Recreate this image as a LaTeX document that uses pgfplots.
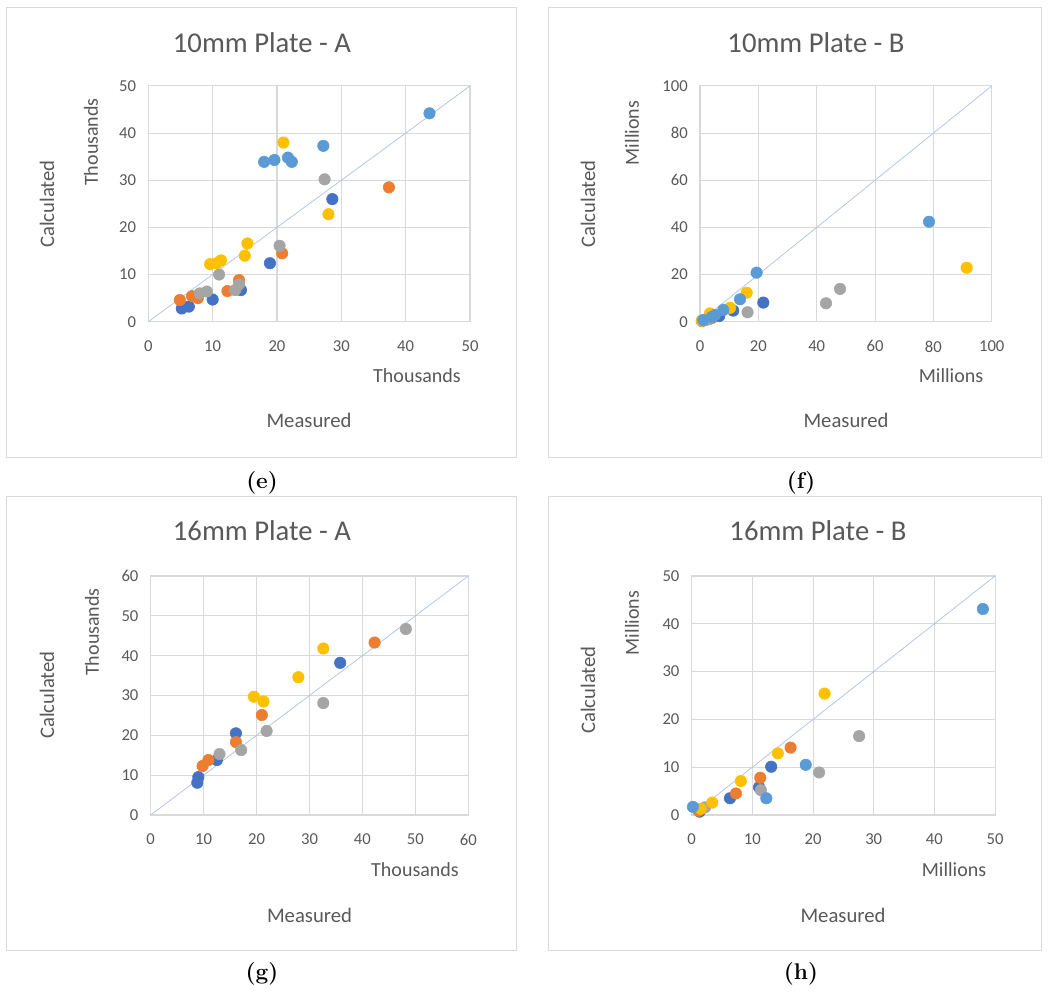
\documentclass[border=0pt]{standalone}
\usepackage{pgfplots}
\pgfplotsset{compat=1.18}
\usepackage{fontspec}
\setsansfont{Carlito}
\definecolor{dblue}{HTML}{4472C4}
\definecolor{orng}{HTML}{ED7D31}
\definecolor{gry}{HTML}{A5A5A5}
\definecolor{gold}{HTML}{FFC000}
\definecolor{lblue}{HTML}{5B9BD5}
\definecolor{gridc}{HTML}{D9D9D9}
\definecolor{tickc}{HTML}{595959}
\definecolor{diag}{HTML}{B4C7E7}
\pgfplotsset{
  excel/.style={
    scale only axis, clip=false,
    axis line style={draw=gridc, line width=0.8pt},
    grid=major, major grid style={draw=gridc, line width=0.8pt},
    major tick length=0pt,
    /pgf/number format/assume math mode=true,
    tick label style={font=\sffamily\fontsize{12.5}{12.5}\selectfont, text=tickc},
    yticklabel style={inner sep=0pt, xshift=-9pt},
    xticklabel style={inner sep=0pt, yshift=-14pt},
  },
  pts/.style={only marks, mark=*, mark size=4.3pt, color=#1, mark options={fill=#1, draw=#1}},
  dg/.style={no marks, color=diag, line width=0.6pt},
}
\newcommand{\ttl}{\sffamily\fontsize{21.5}{22}\selectfont\color{tickc}}
\newcommand{\lab}{\sffamily\fontsize{15.5}{16}\selectfont\color{tickc}}
\newcommand{\unt}{\sffamily\fontsize{15}{16}\selectfont\color{tickc}}
\newcommand{\sub}{\fontsize{17}{18}\selectfont\bfseries}
\begin{document}
\begin{tikzpicture}[x=0.75pt, y=0.75pt]
\useasboundingbox (0,0) rectangle (1049,996);
\fill[white] (0,0) rectangle (1049,996);
\draw[gridc, line width=0.75pt] (6,988) rectangle (516,538);
\draw[gridc, line width=0.75pt] (548,988) rectangle (1041,538);
\draw[gridc, line width=0.75pt] (6,499) rectangle (516,46);
\draw[gridc, line width=0.75pt] (548,499) rectangle (1041,46);

% (e) 10mm Plate - A
\begin{axis}[excel, at={(111.225pt,505.725pt)}, anchor=south west,
  width=241.3pt, height=176.8pt,
  xmin=0, xmax=50, ymin=0, ymax=50,
  xtick={0,10,...,50}, ytick={0,10,...,50}]
\addplot[dg] coordinates {(0,0) (50,50)};
\addplot[pts=dblue] coordinates {(28.6,26.0) (18.9,12.4) (10.0,4.7) (14.4,6.7) (5.2,2.8) (6.3,3.2)};
\addplot[pts=orng] coordinates {(37.4,28.5) (20.8,14.5) (14.1,8.8) (12.3,6.5) (6.8,5.4) (7.7,5.0) (4.9,4.6)};
\addplot[pts=gry] coordinates {(27.4,30.2) (20.4,16.1) (11.0,10.0) (9.1,6.4) (8.0,6.0) (14.1,7.9) (13.5,6.7)};
\addplot[pts=gold] coordinates {(21.0,38.0) (28.0,22.8) (15.4,16.6) (15.0,14.0) (9.6,12.2) (10.6,12.4) (11.3,13.0)};
\addplot[pts=lblue] coordinates {(43.7,44.2) (27.2,37.3) (18.0,33.9) (19.6,34.3) (21.7,34.8) (22.3,33.9)};
\end{axis}

% (f) 10mm Plate - B
\begin{axis}[excel, at={(525pt,505.725pt)}, anchor=south west,
  width=218.8pt, height=176.8pt,
  xmin=0, xmax=100, ymin=0, ymax=100,
  xtick={0,20,...,100}, ytick={0,20,...,100}]
\addplot[dg] coordinates {(0,0) (100,100)};
\addplot[pts=dblue] coordinates {(21.7,8.1) (11.4,4.7) (6.6,2.4) (3.0,1.2) (0.6,0.3)};
\addplot[pts=orng] coordinates {(0.8,0.4) (4.0,1.5) (2.0,0.8)};
\addplot[pts=gry] coordinates {(48.0,13.9) (43.2,7.8) (16.3,4.0) (1.2,0.6) (3.0,1.0)};
\addplot[pts=gold] coordinates {(91.4,22.9) (16.0,12.3) (10.3,5.9) (3.4,3.5) (0.6,0.4)};
\addplot[pts=lblue] coordinates {(78.5,42.4) (19.4,20.8) (13.7,9.5) (8.0,5.0) (5.1,2.8) (1.1,0.7) (4.0,2.0)};
\end{axis}

% (g) 16mm Plate - A
\begin{axis}[excel, at={(113.025pt,135.75pt)}, anchor=south west,
  width=238.2pt, height=179.25pt,
  xmin=0, xmax=60, ymin=0, ymax=60,
  xtick={0,10,...,60}, ytick={0,10,...,60}]
\addplot[dg] coordinates {(0,0) (60,60)};
\addplot[pts=dblue] coordinates {(35.8,38.2) (16.1,20.5) (12.5,13.8) (9.0,9.5) (8.8,8.1)};
\addplot[pts=orng] coordinates {(42.3,43.3) (21.0,25.1) (16.1,18.3) (10.9,13.8) (9.8,12.3)};
\addplot[pts=gry] coordinates {(48.2,46.7) (32.6,28.1) (21.9,21.1) (17.1,16.3) (13.0,15.3)};
\addplot[pts=gold] coordinates {(32.6,41.8) (27.9,34.6) (19.5,29.7) (21.3,28.5)};
\end{axis}

% (h) 16mm Plate - B
\begin{axis}[excel, at={(518.775pt,135.75pt)}, anchor=south west,
  width=227.5pt, height=179.25pt,
  xmin=0, xmax=50, ymin=0, ymax=50,
  xtick={0,10,...,50}, ytick={0,10,...,50}]
\addplot[dg] coordinates {(0,0) (50,50)};
\addplot[pts=dblue] coordinates {(13.1,10.1) (11.1,5.8) (6.3,3.5) (1.3,0.7)};
\addplot[pts=orng] coordinates {(16.3,14.1) (11.3,7.8) (7.3,4.5) (1.1,0.9)};
\addplot[pts=gry] coordinates {(27.6,16.5) (21.0,8.9) (11.4,5.2) (2.2,1.6)};
\addplot[pts=gold] coordinates {(21.9,25.4) (14.2,12.9) (8.1,7.1) (3.4,2.6) (1.5,1.3)};
\addplot[pts=lblue] coordinates {(48.0,43.1) (18.8,10.5) (12.3,3.5) (0.2,1.7)};
\end{axis}

% texts
\node[anchor=base] at (262,943) {\ttl 10mm Plate - A};
\node[rotate=90] at (47,792) {\lab Calculated};
\node[rotate=90] at (91,854) {\unt Thousands};
\node at (417,620) {\unt Thousands};
\node at (309,576) {\lab Measured};
\node at (262,513) {\sub (e)};

\node[anchor=base] at (816,943) {\ttl 10mm Plate - B};
\node[rotate=90] at (588,792) {\lab Calculated};
\node[rotate=90] at (632,863) {\unt Millions};
\node at (951,620) {\unt Millions};
\node at (846,576) {\lab Measured};
\node at (801,513) {\sub (f)};

\node[anchor=base] at (262,455) {\ttl 16mm Plate - A};
\node[rotate=90] at (47,301) {\lab Calculated};
\node[rotate=90] at (92,364) {\unt Thousands};
\node at (415,126) {\unt Thousands};
\node at (309.5,81) {\lab Measured};
\node at (262,22) {\sub (g)};

\node[anchor=base] at (818,455) {\ttl 16mm Plate - B};
\node[rotate=90] at (588,306) {\lab Calculated};
\node[rotate=90] at (632,373) {\unt Millions};
\node at (954,126) {\unt Millions};
\node at (843,81) {\lab Measured};
\node at (801,22) {\sub (h)};
\end{tikzpicture}
\end{document}
